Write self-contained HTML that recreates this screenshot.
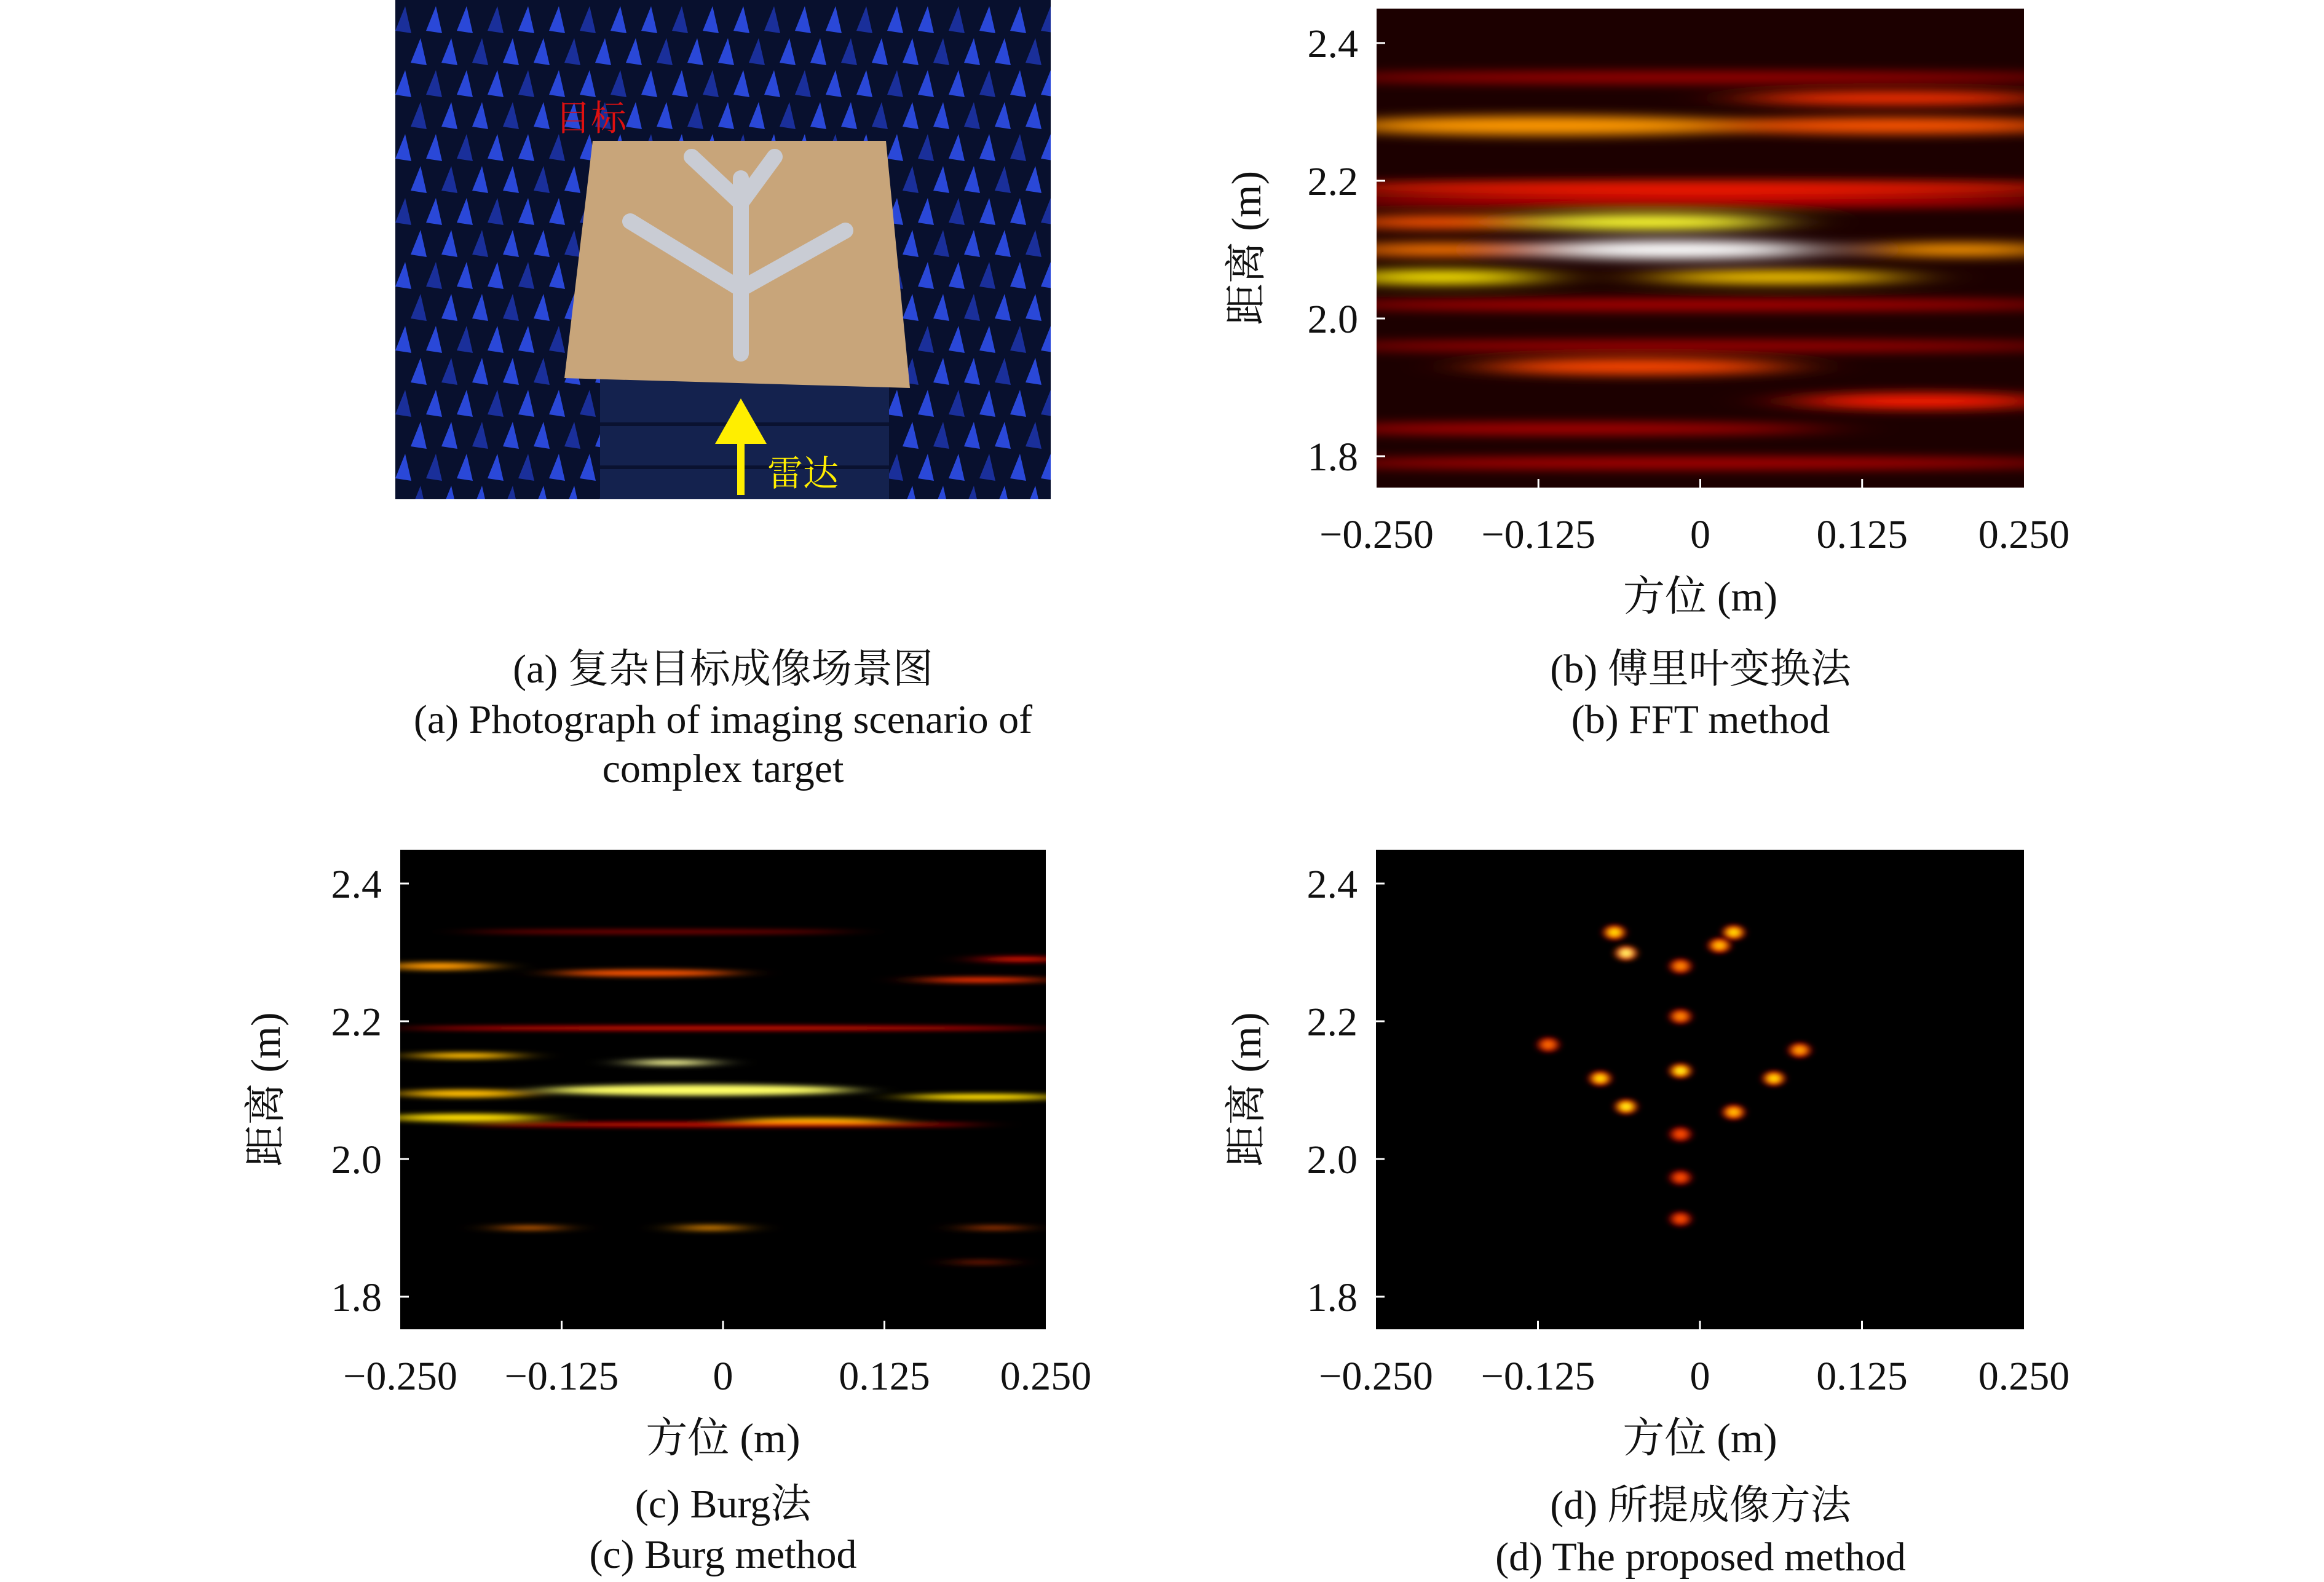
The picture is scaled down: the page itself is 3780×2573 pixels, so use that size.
<!DOCTYPE html>
<html><head><meta charset="utf-8">
<style>
html,body{margin:0;padding:0;background:#fff;}
svg{display:block;}
text{font-family:"Liberation Serif","Noto Serif CJK SC",serif;fill:#111;}
</style></head>
<body>
<svg id="fig" xmlns="http://www.w3.org/2000/svg" width="3780" height="2573" viewBox="0 0 3780 2573">
<defs>
  <filter id="blurB" x="-50%" y="-200%" width="200%" height="500%"><feGaussianBlur stdDeviation="60 9"/></filter>
  <filter id="blurC" x="-50%" y="-200%" width="200%" height="500%"><feGaussianBlur stdDeviation="35 4"/></filter>
  <filter id="blurD" x="-100%" y="-100%" width="300%" height="300%"><feGaussianBlur stdDeviation="6 4"/></filter>
  <clipPath id="clipB"><rect x="2239" y="14" width="1053" height="779"/></clipPath>
  <clipPath id="clipC"><rect x="651" y="1382" width="1050" height="780"/></clipPath>
  <clipPath id="clipD"><rect x="2238" y="1382" width="1054" height="780"/></clipPath>
  <clipPath id="clipA"><rect x="643" y="0" width="1066" height="812"/></clipPath>
</defs>

<!-- Panel (a): photograph -->
<g id="photo" clip-path="url(#clipA)">
  <rect x="643" y="0" width="1066" height="812" fill="#08102e"/>
  <g id="cones"></g>
  <polygon points="976,615 1446,615 1446,812 976,812" fill="#14224e"/>
  <line x1="976" y1="690" x2="1446" y2="690" stroke="#0a1230" stroke-width="6"/>
  <line x1="976" y1="760" x2="1446" y2="760" stroke="#0a1230" stroke-width="6"/>
  <polygon points="964,229 1441,229 1480,631 918,615" fill="#c8a57a"/>
  <g stroke="#c9ccd4" stroke-width="26" stroke-linecap="round" fill="none">
    <line x1="1205" y1="575" x2="1205" y2="290"/>
    <line x1="1205" y1="330" x2="1125" y2="255"/>
    <line x1="1205" y1="330" x2="1260" y2="255"/>
    <line x1="1205" y1="470" x2="1025" y2="360"/>
    <line x1="1205" y1="470" x2="1375" y2="375"/>
  </g>
  <text x="903" y="212" font-size="58" style="fill:#e01010">目标</text>
  <g>
    <line x1="1205" y1="805" x2="1205" y2="715" stroke="#ffee00" stroke-width="12"/>
    <polygon points="1163,722 1247,722 1205,648" fill="#ffee00"/>
  </g>
  <text x="1248" y="790" font-size="58" style="fill:#ffee00">雷达</text>
</g>

<g id="panelB"></g>
<g id="panelC"></g>
<g id="panelD"></g>

<!-- captions -->
<g font-size="66" text-anchor="middle">
  <text x="1176" y="1110">(a) 复杂目标成像场景图</text>
  <text x="1176" y="1192">(a) Photograph of imaging scenario of</text>
  <text x="1176" y="1272">complex target</text>
  <text x="2766" y="1110">(b) 傅里叶变换法</text>
  <text x="2766" y="1192">(b) FFT method</text>
  <text x="1176" y="2468">(c) Burg法</text>
  <text x="1176" y="2550">(c) Burg method</text>
  <text x="2766" y="2470">(d) 所提成像方法</text>
  <text x="2766" y="2554">(d) The proposed method</text>
</g>
</svg>

<script>
// ---- data ----
const xTicks = [-0.25, -0.125, 0, 0.125, 0.25];
const xTickLabels = ["\u22120.250", "\u22120.125", "0", "0.125", "0.250"];
const yTicks = [2.4, 2.2, 2.0, 1.8];
const yTickLabels = ["2.4", "2.2", "2.0", "1.8"];

// FFT bands: range center, azimuth center, azimuth half-width, range half-height, intensity
const fftRange = [2.35, 2.32, 2.28, 2.28, 2.19, 2.17, 2.14, 2.14, 2.10, 2.10, 2.10, 2.06, 2.06, 2.02, 1.96, 1.93, 1.88, 1.84, 1.79];
const fftAz    = [0.0, 0.15, -0.12, 0.15, 0.0, 0.0, -0.2, -0.04, -0.02, -0.2, 0.2, -0.2, 0.06, 0.0, 0.0, -0.05, 0.17, -0.1, 0.0];
const fftHalfW = [0.3, 0.12, 0.16, 0.14, 0.3, 0.3, 0.08, 0.1, 0.11, 0.08, 0.08, 0.08, 0.1, 0.3, 0.3, 0.12, 0.1, 0.2, 0.3];
const fftHalfH = [0.008, 0.01, 0.014, 0.012, 0.01, 0.008, 0.01, 0.012, 0.014, 0.01, 0.01, 0.011, 0.01, 0.008, 0.008, 0.012, 0.012, 0.008, 0.008];
const fftInt   = [0.25, 0.45, 0.6, 0.5, 0.42, 0.3, 0.5, 0.8, 1.0, 0.55, 0.6, 0.72, 0.68, 0.28, 0.25, 0.48, 0.42, 0.28, 0.28];

// Burg streaks
const burgRange = [2.33, 2.28, 2.27, 2.26, 2.29, 2.19, 2.15, 2.14, 2.10, 2.095, 2.09, 2.06, 2.055, 2.05, 1.90, 1.90, 1.90, 1.85];
const burgAz    = [-0.05, -0.22, -0.06, 0.2, 0.23, 0.0, -0.2, -0.04, -0.02, -0.2, 0.2, -0.2, 0.07, 0.0, -0.15, -0.01, 0.21, 0.2];
const burgHalfW = [0.15, 0.04, 0.07, 0.05, 0.03, 0.25, 0.04, 0.03, 0.12, 0.05, 0.06, 0.06, 0.06, 0.2, 0.02, 0.02, 0.015, 0.01];
const burgHalfH = [0.003, 0.006, 0.005, 0.004, 0.004, 0.003, 0.005, 0.005, 0.008, 0.006, 0.005, 0.006, 0.005, 0.003, 0.004, 0.005, 0.004, 0.004];
const burgInt   = [0.2, 0.6, 0.5, 0.45, 0.4, 0.4, 0.65, 0.9, 0.85, 0.65, 0.7, 0.7, 0.65, 0.4, 0.55, 0.6, 0.5, 0.45];

// proposed method point scatterers
const ptAz    = [-0.066, 0.026, -0.057, 0.015, -0.015, -0.015, -0.117, 0.077, -0.077, -0.015, 0.057, -0.057, 0.026, -0.015, -0.015, -0.015];
const ptRange = [2.329, 2.329, 2.299, 2.310, 2.280, 2.207, 2.166, 2.158, 2.117, 2.128, 2.117, 2.076, 2.068, 2.036, 1.973, 1.913];
const ptInt   = [0.8, 0.8, 0.95, 0.75, 0.65, 0.65, 0.6, 0.7, 0.8, 0.85, 0.8, 0.85, 0.75, 0.55, 0.55, 0.55];

const NS = "http://www.w3.org/2000/svg";
function mk(tag, attrs, parent) {
  const e = document.createElementNS(NS, tag);
  for (const k in attrs) e.setAttribute(k, attrs[k]);
  parent.appendChild(e);
  return e;
}
function hot(t) {
  const c = v => Math.max(0, Math.min(1, v));
  const r = c(t / 0.375), g = c((t - 0.375) / 0.375), b = c((t - 0.75) / 0.25);
  return `rgb(${Math.round(r*255)},${Math.round(g*255)},${Math.round(b*255)})`;
}

function makeAxes(L, R, T, B, y24, y18) {
  return {
    x: v => L + (v + 0.25) / 0.5 * (R - L),
    y: v => y24 + (2.4 - v) / 0.6 * (y18 - y24),
    L, R, T, B
  };
}

function drawFrame(g, ax, ytitleX) {
  yTicks.forEach((v, i) => {
    const t = mk("line", {x1: ax.L, x2: ax.L + 14, y1: ax.y(v), y2: ax.y(v), stroke: "#fff", "stroke-width": 3}, g);
    
    
    const lb = mk("text", {x: ax.L - 30, y: ax.y(v) + 23, "font-size": 66, "text-anchor": "end"}, g);
    
    
    lb.textContent = yTickLabels[i];
  });
  xTicks.forEach((v, i) => {
    if (i > 0 && i < xTicks.length - 1) {
      const t = mk("line", {x1: ax.x(v), x2: ax.x(v), y1: ax.B, y2: ax.B - 14, stroke: "#fff", "stroke-width": 3}, g);
      
      
    }
    const lb = mk("text", {x: ax.x(v), y: ax.B + 98, "font-size": 66, "text-anchor": "middle"}, g);
    
    
    lb.textContent = xTickLabels[i];
  });
  const xt = mk("text", {x: (ax.L + ax.R) / 2, y: ax.B + 200, "font-size": 68, "text-anchor": "middle"}, g);
  
  
  xt.textContent = "方位 (m)";
  const cy = (ax.T + ax.B) / 2;
  const yt = mk("text", {x: ytitleX, y: cy, "font-size": 68, "text-anchor": "middle", transform: `rotate(-90 ${ytitleX} ${cy})`}, g);
  
  
  yt.textContent = "距离 (m)";
}

function drawBands(g, ax, clip, filt, bg, rr, az, hw, hh, it) {
  const hm = mk("g", {"clip-path": `url(#${clip})`}, g);
  
  
  mk("rect", {x: ax.L, y: ax.T, width: ax.R - ax.L, height: ax.B - ax.T, fill: bg}, hm);
  const fg = mk("g", {filter: `url(#${filt})`}, hm);
  const sx = (ax.R - ax.L) / 0.5, sy = (ax.y(1.8) - ax.y(2.4)) / 0.6;
  rr.forEach((r, i) => {
    const e = mk("ellipse", {cx: ax.x(az[i]), cy: ax.y(r), rx: hw[i] * sx, ry: hh[i] * sy, fill: hot(it[i])}, fg);
    
    
  });
}

// Panel B
const gB = document.getElementById("panelB");
const axB = makeAxes(2239, 3292, 14, 793, 70, 742);
drawBands(gB, axB, "clipB", "blurB", "#1c0000", fftRange, fftAz, fftHalfW, fftHalfH, fftInt);
drawFrame(gB, axB, 2050);

// Panel C
const gC = document.getElementById("panelC");
const axC = makeAxes(651, 1701, 1382, 2162, 1437, 2109);
drawBands(gC, axC, "clipC", "blurC", "#000", burgRange, burgAz, burgHalfW, burgHalfH, burgInt);
drawFrame(gC, axC, 455);

// Panel D
const gD = document.getElementById("panelD");
const axD = makeAxes(2238, 3292, 1382, 2162, 1437, 2109);
(function () {
  const hm = mk("g", {"clip-path": "url(#clipD)"}, gD);
  
  
  mk("rect", {x: axD.L, y: axD.T, width: axD.R - axD.L, height: axD.B - axD.T, fill: "#000"}, hm);
  ptAz.forEach((a, i) => {
    const pg = mk("g", {filter: "url(#blurD)"}, hm);
    
    
    mk("ellipse", {cx: axD.x(a), cy: axD.y(ptRange[i]), rx: 17, ry: 12, fill: hot(ptInt[i] * 0.5)}, pg);
    mk("ellipse", {cx: axD.x(a), cy: axD.y(ptRange[i]), rx: 9, ry: 6, fill: hot(ptInt[i] * 0.9)}, pg);
  });
})();
drawFrame(gD, axD, 2050);

// decorative absorber cones in photo
(function () {
  const g = document.getElementById("cones");
  for (let r = 0; r < 16; r++) {
    for (let c = 0; c < 22; c++) {
      const x = 643 + c * 50 + (r % 2) * 25;
      const y = r * 52 + 10;
      mk("polygon", {points: `${x},${y + 40} ${x + 16},${y} ${x + 26},${y + 44}`, fill: (r + c) % 3 ? "#2a48d8" : "#1a2f9a"}, g);
    }
  }
})();
</script>
</body></html>
